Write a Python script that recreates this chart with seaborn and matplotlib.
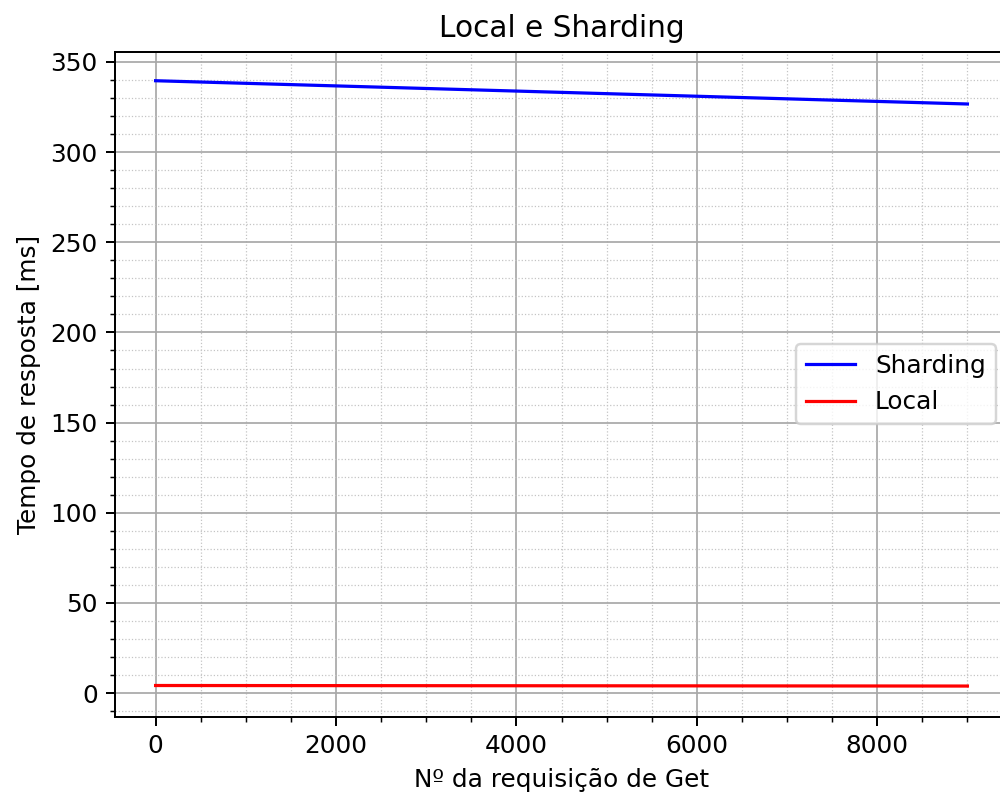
import matplotlib
matplotlib.use("Agg")
import matplotlib.pyplot as plt
import seaborn as sns
import pandas as pd
from matplotlib.ticker import MultipleLocator

requisicao = [0, 3000, 6000, 9000]
sharding_ms = [339.6, 335.3, 331.0, 326.7]
local_ms = [4.2, 4.1, 4.0, 3.9]

df = pd.concat([
    pd.DataFrame({"x": requisicao, "y": sharding_ms, "serie": "Sharding"}),
    pd.DataFrame({"x": requisicao, "y": local_ms, "serie": "Local"}),
])

DPI = 178
fig = plt.figure(figsize=(1000 / DPI, 793 / DPI), dpi=DPI)
ax = fig.add_axes([115 / 1000, 1 - 716.7 / 793, 893 / 1000, (716.7 - 51.7) / 793])

sns.lineplot(data=df, x="x", y="y", hue="serie",
             palette={"Sharding": "blue", "Local": "red"}, ax=ax, linewidth=1.3)

ax.set_xlim(-450, 9450)
ax.set_ylim(-13.1, 355.7)
ax.xaxis.set_major_locator(MultipleLocator(2000))
ax.xaxis.set_minor_locator(MultipleLocator(500))
ax.yaxis.set_major_locator(MultipleLocator(50))
ax.yaxis.set_minor_locator(MultipleLocator(10))
ax.grid(which="major", color="#a8a8a8", linewidth=0.7, linestyle="-")
ax.grid(which="minor", color="#c4c4c4", linewidth=0.5, linestyle=":")
ax.set_axisbelow(True)

ax.set_title("Local e Sharding", fontsize=12)
ax.set_xlabel("Nº da requisição de Get", fontsize=10)
ax.set_ylabel("Tempo de resposta [ms]", fontsize=10)
ax.legend(title=None, loc="center right", fontsize=10)

fig.savefig("out.png", dpi=DPI)
